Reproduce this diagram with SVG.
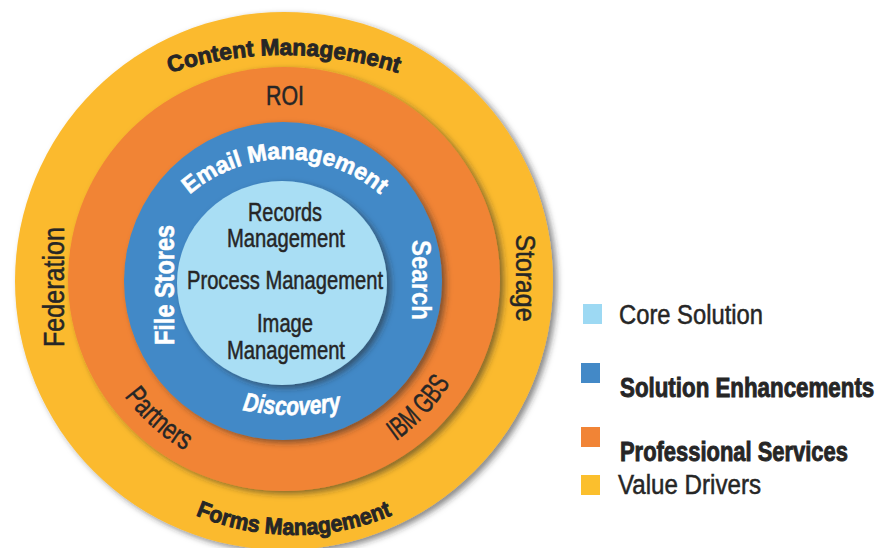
<svg xmlns="http://www.w3.org/2000/svg" xmlns:xlink="http://www.w3.org/1999/xlink" width="892" height="548" viewBox="0 0 892 548">
<style>
.dk{fill:#262626;font-family:"Liberation Sans",Arial,sans-serif}
.wh{fill:#ffffff;font-family:"Liberation Sans",Arial,sans-serif;font-weight:bold;stroke:#ffffff;stroke-width:0.6}
.heavy{font-weight:bold;stroke:#262626;stroke-width:0.9}
.reg{stroke:#262626;stroke-width:0.5}
</style>
<defs>
<filter id="sh" x="-10%" y="-10%" width="125%" height="125%">
<feDropShadow dx="4" dy="3" stdDeviation="3" flood-color="#2a2a2a" flood-opacity="0.55"/>
</filter>
<path id="pContent" d="M -86 425 A 370 370 0 0 1 654 425"/>
<path id="pForms" d="M 40 281 A 254 254 0 0 0 548 281"/>
<path id="pMid" d="M 87 281 A 196 196 0 0 0 479 281"/>
<path id="pEmail" d="M 140 304 A 145 145 0 0 1 430 304"/>
<path id="pDisc" d="M 42 165 A 250 250 0 0 0 542 165"/>
</defs>
<rect width="892" height="548" fill="#ffffff"/>

<g id="value-drivers">
<circle cx="284" cy="281" r="269" fill="#FBBA2E" filter="url(#sh)"/>
<text class="dk heavy" font-size="23" text-anchor="middle" textLength="232" lengthAdjust="spacingAndGlyphs"><textPath xlink:href="#pContent" href="#pContent" startOffset="50%">Content Management</textPath></text>
<text class="dk heavy" font-size="23" text-anchor="middle" textLength="202" lengthAdjust="spacingAndGlyphs"><textPath xlink:href="#pForms" href="#pForms" startOffset="50%">Forms Management</textPath></text>
<text class="dk reg" font-size="29" text-anchor="middle" textLength="120" lengthAdjust="spacingAndGlyphs" transform="translate(64,287) rotate(-90)">Federation</text>
<text class="dk reg" font-size="27" text-anchor="middle" textLength="87" lengthAdjust="spacingAndGlyphs" transform="translate(516,278) rotate(90)">Storage</text>
</g>

<g id="professional-services">
<ellipse cx="284" cy="279" rx="216" ry="212" fill="#F18436" filter="url(#sh)"/>
<text class="dk reg" font-size="27" x="285" y="105" text-anchor="middle" textLength="38" lengthAdjust="spacingAndGlyphs">ROI</text>
<text class="dk reg" font-size="29" text-anchor="middle" textLength="82" lengthAdjust="spacingAndGlyphs"><textPath xlink:href="#pMid" href="#pMid" startOffset="164">Partners</textPath></text>
<text class="dk reg" font-size="29" text-anchor="middle" textLength="80" lengthAdjust="spacingAndGlyphs"><textPath xlink:href="#pMid" href="#pMid" startOffset="468">IBM GBS</textPath></text>
</g>

<g id="solution-enhancements">
<circle cx="283" cy="281" r="159" fill="#4389C7" filter="url(#sh)"/>
<text class="wh" font-size="23.5" text-anchor="middle" textLength="208" lengthAdjust="spacingAndGlyphs"><textPath xlink:href="#pEmail" href="#pEmail" startOffset="50%">Email Management</textPath></text>
<text class="wh" font-size="27" text-anchor="middle" textLength="120" lengthAdjust="spacingAndGlyphs" transform="translate(174,285) rotate(-90)">File Stores</text>
<text class="wh" font-size="27" text-anchor="middle" textLength="80" lengthAdjust="spacingAndGlyphs" transform="translate(412,280) rotate(90)" style="stroke-width:0.2">Search</text>
<text class="wh" font-size="26" font-style="italic" text-anchor="middle" textLength="100" lengthAdjust="spacingAndGlyphs"><textPath xlink:href="#pDisc" href="#pDisc" startOffset="50%">Discovery</textPath></text>
</g>

<g id="core-solution">
<ellipse cx="282" cy="283" rx="105" ry="102" fill="#A9DEF4" filter="url(#sh)"/>
<g class="dk reg" font-size="25" text-anchor="middle">
<text x="285" y="221" textLength="74" lengthAdjust="spacingAndGlyphs">Records</text>
<text x="286" y="247" textLength="118" lengthAdjust="spacingAndGlyphs">Management</text>
<text x="285" y="289" textLength="196" lengthAdjust="spacingAndGlyphs">Process Management</text>
<text x="285" y="332" textLength="56" lengthAdjust="spacingAndGlyphs">Image</text>
<text x="286" y="359" textLength="118" lengthAdjust="spacingAndGlyphs">Management</text>
</g>
</g>

<g id="connectors"></g>

<g id="legend">
<g id="legend-core"><rect x="583" y="304" width="19" height="20" fill="#9DD9F3"/><text class="dk reg" font-size="27" x="619" y="324" textLength="144" lengthAdjust="spacingAndGlyphs">Core Solution</text></g>
<g id="legend-enh"><rect x="581" y="363" width="19" height="20" fill="#4389C7"/><text class="dk heavy" font-size="27" transform="translate(620,397) scale(0.827,1)">Solution Enhancements</text></g>
<g id="legend-prof"><rect x="581" y="427" width="19" height="20" fill="#F18436"/><text class="dk heavy" font-size="27" transform="translate(620,461) scale(0.8125,1)">Professional Services</text></g>
<g id="legend-value"><rect x="581" y="475" width="19" height="20" fill="#FBBF2D"/><text class="dk reg" font-size="27" x="618" y="494" textLength="143" lengthAdjust="spacingAndGlyphs">Value Drivers</text></g>
</g>
</svg>
